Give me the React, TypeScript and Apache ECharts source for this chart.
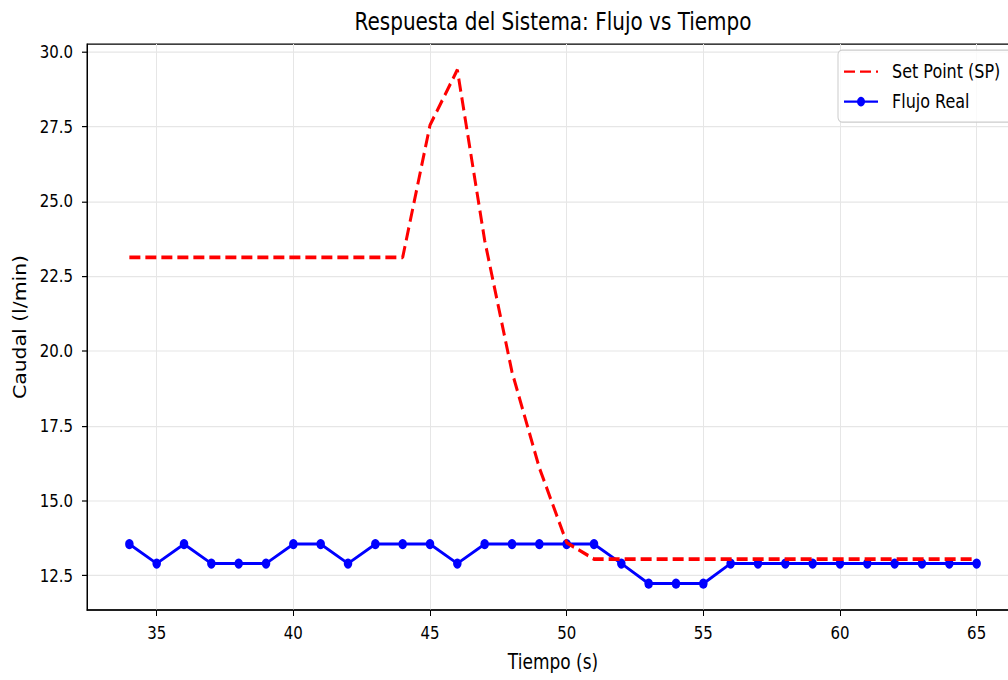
import React, { useEffect, useRef } from "react";
import * as echarts from "echarts";

// The reference figure is stretched vertically; reproduce by drawing at reduced height and scaling.
const SCALE_Y = 1.2;
const W = 1008;
const CHART_W = 1040;
const H = 680 / SCALE_Y;
const FONT = "DejaVu Sans";

const tiempo = [
  34, 35, 36, 37, 38, 39, 40, 41, 42, 43, 44, 45, 46, 47, 48, 49, 50, 51, 52, 53, 54, 55, 56, 57,
  58, 59, 60, 61, 62, 63, 64, 65,
];

const setPoint = [
  23.13, 23.13, 23.13, 23.13, 23.13, 23.13, 23.13, 23.13, 23.13, 23.13, 23.13, 27.55, 29.4, 23.7,
  19.3, 16.1, 13.6, 13.05, 13.05, 13.05, 13.05, 13.05, 13.05, 13.05, 13.05, 13.05, 13.05, 13.05,
  13.05, 13.05, 13.05, 13.05,
];

const flujoReal = [
  13.55, 12.9, 13.55, 12.9, 12.9, 12.9, 13.55, 13.55, 12.9, 13.55, 13.55, 13.55, 12.9, 13.55,
  13.55, 13.55, 13.55, 13.55, 12.9, 12.23, 12.23, 12.23, 12.9, 12.9, 12.9, 12.9, 12.9, 12.9, 12.9,
  12.9, 12.9, 12.9,
];

const xTicks = [35, 40, 45, 50, 55, 60, 65];
const yTicks = [12.5, 15, 17.5, 20, 22.5, 25, 27.5, 30];

export default function App() {
  const ref = useRef<HTMLDivElement>(null);

  useEffect(() => {
    if (!ref.current) return;
    const chart = echarts.init(ref.current, null, { renderer: "svg" });
    const spData = tiempo.map((t, i) => [t, setPoint[i]]);
    const frData = tiempo.map((t, i) => [t, flujoReal[i]]);
    chart.setOption({
      animation: false,
      backgroundColor: "#ffffff",
      title: {
        text: "Respuesta del Sistema: Flujo vs Tiempo",
        left: 548,
        top: 3,
        textAlign: "center",
        textStyle: {
          fontFamily: FONT,
          fontSize: 20,
          fontWeight: "normal",
          color: "#000",
          lineHeight: 20,
        },
      },
      grid: {
        left: 87,
        top: 36.7,
        width: 932,
        height: 471.6,
        show: true,
        borderColor: "#000",
        borderWidth: 1,
        backgroundColor: "transparent",
      },
      legend: {
        orient: "vertical",
        left: 838,
        top: 41.7,
        data: [
          { name: "Set Point (SP)", itemStyle: { opacity: 0 } },
          { name: "Flujo Real" },
        ],
        itemWidth: 34,
        itemHeight: 10,
        itemGap: 9,
        padding: [10, 24, 9, 5],
        backgroundColor: "rgba(255,255,255,0.8)",
        borderColor: "#cccccc",
        borderWidth: 1,
        borderRadius: 4,
        textStyle: {
          fontFamily: FONT,
          fontSize: 16,
          color: "#000",
          lineHeight: 16,
          padding: [0, 0, 0, 9],
        },
      },
      xAxis: {
        type: "value",
        min: 32.45,
        max: 66.55,
        name: "Tiempo (s)",
        nameLocation: "middle",
        nameGap: 35,
        nameTextStyle: { fontFamily: FONT, fontSize: 17, color: "#000" },
        axisLine: { show: true, lineStyle: { color: "#000", width: 1 } },
        axisTick: {
          show: true,
          length: 5,
          inside: false,
          customValues: xTicks,
          lineStyle: { color: "#000", width: 1 },
        },
        axisLabel: {
          customValues: xTicks,
          margin: 12,
          fontFamily: FONT,
          fontSize: 15,
          color: "#000",
          formatter: (v: number) => String(v),
        },
        splitLine: { show: true, lineStyle: { color: "#e6e6e6", width: 1 } },
      },
      yAxis: {
        type: "value",
        min: 11.35,
        max: 30.26,
        name: "Caudal (l/min)",
        nameLocation: "middle",
        nameGap: 58,
        nameRotate: 90,
        nameTextStyle: { fontFamily: FONT, fontSize: 17, color: "#000" },
        axisLine: { show: true, lineStyle: { color: "#000", width: 1 } },
        axisTick: {
          show: true,
          length: 5,
          inside: false,
          customValues: yTicks,
          lineStyle: { color: "#000", width: 1 },
        },
        axisLabel: {
          customValues: yTicks,
          margin: 14,
          fontFamily: FONT,
          fontSize: 15,
          color: "#000",
          formatter: (v: number) => v.toFixed(1),
        },
        splitLine: { show: true, lineStyle: { color: "#e6e6e6", width: 1 } },
      },
      series: [
        {
          name: "Set Point (SP)",
          type: "line",
          data: spData,
          symbol: "none",
          lineStyle: { color: "#ff0000", width: 3, type: [11, 5] },
          itemStyle: { color: "#ff0000" },
          z: 3,
        },
        {
          name: "Flujo Real",
          type: "line",
          data: frData,
          symbol: "circle",
          symbolSize: 8.5,
          lineStyle: { color: "#0000ff", width: 2.5 },
          itemStyle: { color: "#0000ff" },
          z: 2,
        },
      ],
    });
    return () => chart.dispose();
  }, []);

  return (
    <div
      style={{
        position: "fixed",
        left: 0,
        top: 0,
        width: W,
        height: 680,
        overflow: "hidden",
        background: "#fff",
      }}
    >
      <div
        ref={ref}
        style={{
          width: CHART_W,
          height: H,
          transform: `scaleY(${SCALE_Y})`,
          transformOrigin: "0 0",
        }}
      />
    </div>
  );
}
